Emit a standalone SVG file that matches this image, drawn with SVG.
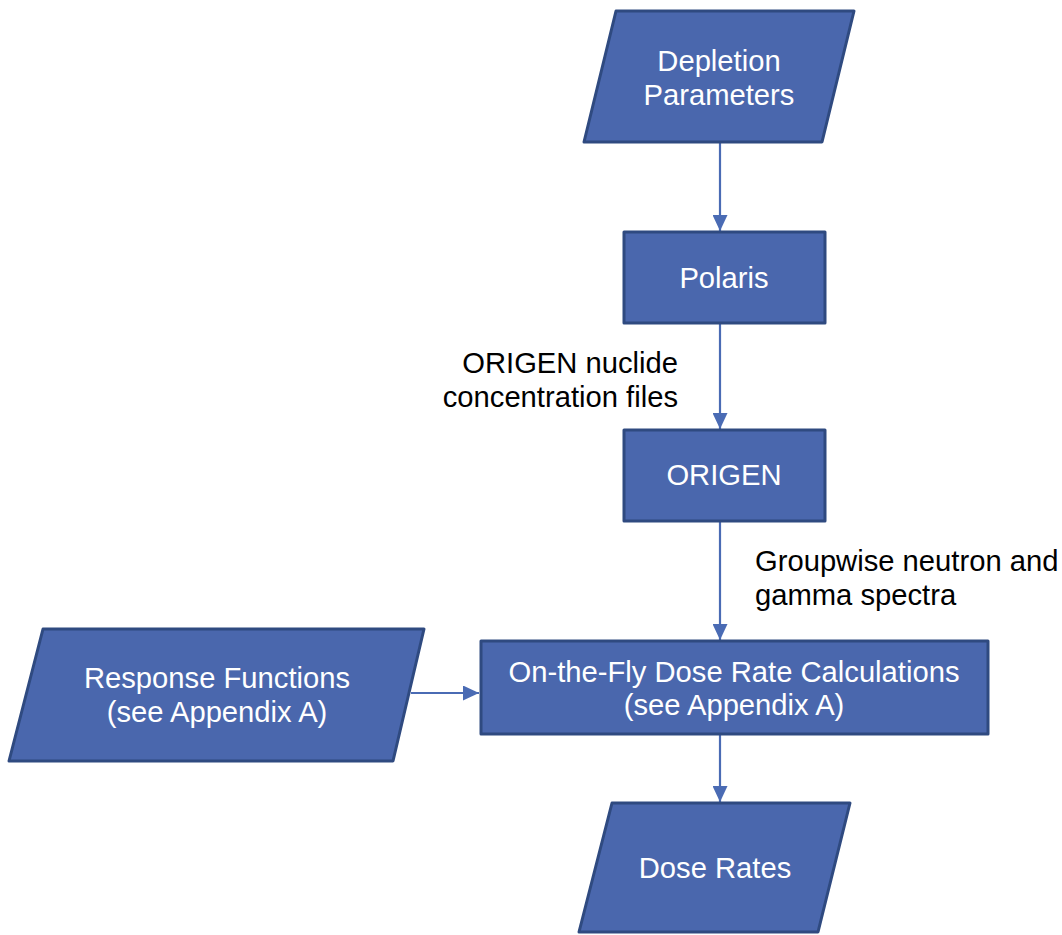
<svg xmlns="http://www.w3.org/2000/svg" width="1062" height="935" viewBox="0 0 1062 935">
<style>
.shape{fill:#4A67AD;stroke:#2F4A80;stroke-width:3;stroke-linejoin:round}
.nt{font-family:"Liberation Sans",Arial,sans-serif;font-size:29.2px;fill:#ffffff;text-anchor:middle}
.lbl{font-family:"Liberation Sans",Arial,sans-serif;font-size:29.2px;fill:#000000}
.conn{stroke:#4A6BB4;stroke-width:2.2;fill:none}
</style>
<defs>
<marker id="ah" markerWidth="16" markerHeight="15" refX="16" refY="7.5" orient="auto" markerUnits="userSpaceOnUse">
<path d="M0,0 L16,7.5 L0,15 Z" fill="#4A6BB4"/>
</marker>
</defs>
<rect width="1062" height="935" fill="#ffffff"/>
<g id="connectors">
<line class="conn" x1="720" y1="143" x2="720" y2="231" marker-end="url(#ah)"/>
<line class="conn" x1="720" y1="324" x2="720" y2="429" marker-end="url(#ah)"/>
<line class="conn" x1="720" y1="522" x2="720" y2="640" marker-end="url(#ah)"/>
<line class="conn" x1="411" y1="693" x2="479" y2="693" marker-end="url(#ah)"/>
<line class="conn" x1="720" y1="735" x2="720" y2="802" marker-end="url(#ah)"/>
</g>
<g id="depletion">
<polygon class="shape" points="616,11 854,11 822,142 584,142"/>
<text class="nt" x="719" y="71">Depletion</text>
<text class="nt" x="719" y="105">Parameters</text>
</g>
<g id="polaris">
<rect class="shape" x="624" y="232" width="201" height="91"/>
<text class="nt" x="724" y="288">Polaris</text>
</g>
<g id="label-origen-files">
<text class="lbl" x="678" y="373" text-anchor="end">ORIGEN nuclide</text>
<text class="lbl" x="678" y="407" text-anchor="end">concentration files</text>
</g>
<g id="origen">
<rect class="shape" x="624" y="430" width="201" height="91"/>
<text class="nt" x="724" y="485">ORIGEN</text>
</g>
<g id="label-spectra">
<text class="lbl" x="755" y="571">Groupwise neutron and</text>
<text class="lbl" x="755" y="605">gamma spectra</text>
</g>
<g id="response">
<polygon class="shape" points="43,629 424,629 393,761 9,761"/>
<text class="nt" x="217" y="688">Response Functions</text>
<text class="nt" x="217" y="722">(see Appendix A)</text>
</g>
<g id="dosecalc">
<rect class="shape" x="481" y="641" width="507" height="93"/>
<text class="nt" x="734" y="682">On-the-Fly Dose Rate Calculations</text>
<text class="nt" x="734" y="715">(see Appendix A)</text>
</g>
<g id="doserates">
<polygon class="shape" points="612,803 850,803 818,932 579,932"/>
<text class="nt" x="715" y="878">Dose Rates</text>
</g>
</svg>
